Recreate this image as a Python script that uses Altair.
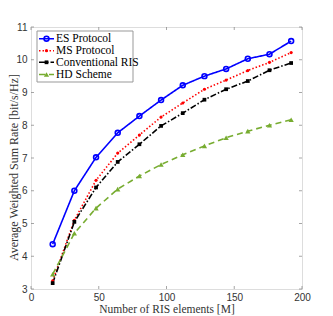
import altair as alt
import pandas as pd

M = [16, 32, 48, 64, 80, 96, 112, 128, 144, 160, 176, 192]
es = [4.37, 6.0, 7.02, 7.77, 8.28, 8.77, 9.22, 9.5, 9.72, 10.03, 10.17, 10.57]
ms = [3.25, 5.1, 6.32, 7.15, 7.7, 8.25, 8.68, 9.1, 9.38, 9.67, 9.92, 10.22]
conv = [3.18, 5.05, 6.1, 6.88, 7.42, 7.98, 8.37, 8.78, 9.1, 9.35, 9.68, 9.9]
hd = [3.45, 4.7, 5.47, 6.05, 6.45, 6.8, 7.1, 7.37, 7.62, 7.82, 8.0, 8.17]

series = ["ES Protocol", "MS Protocol", "Conventional RIS", "HD Scheme"]
colors = ["#0000FF", "#FF0000", "#000000", "#77AC30"]
dashes = [[1, 0], [1.5, 2], [6, 2, 1.5, 2], [6, 4]]
values = [es, ms, conv, hd]

x_ticks = [0, 50, 100, 150, 200]
y_ticks = [3, 4, 5, 6, 7, 8, 9, 10, 11]

W, H = 271, 262
SERIF = "Liberation Serif"
SANS = "Liberation Sans"
AX = "#808080"

rows = []
for s, v in zip(series, values):
    for m, r in zip(M, v):
        rows.append({"M": m, "rate": r, "series": s})
df = pd.DataFrame(rows)
one = pd.DataFrame({"k": [0]})

xaxis = alt.Axis(
    values=x_ticks, title="Number of RIS elements [M]", grid=False, domain=False,
    tickSize=0, labelPadding=3, labelFont=SANS, labelFontSize=10, labelColor="#333",
    labelOverlap=False, labelFlush=False,
    titleFont=SERIF, titleFontSize=11.5, titleFontWeight="normal", titleColor="#333",
    titlePadding=1)
yaxis = alt.Axis(
    values=y_ticks, title="Average Weighted Sum Rate [bit/s/Hz]", grid=False, domain=False,
    tickSize=0, labelPadding=4, labelFont=SANS, labelFontSize=10, labelColor="#333",
    labelOverlap=False, labelFlush=False,
    titleFont=SERIF, titleFontSize=12, titleFontWeight="normal", titleColor="#333",
    titleX=-11, titleY=140)

xs = alt.Scale(domain=[0, 200], nice=False)
ys = alt.Scale(domain=[3, 11], nice=False)

lines = alt.Chart(df).mark_line(strokeWidth=1.6).encode(
    x=alt.X("M:Q", scale=xs, axis=xaxis), y=alt.Y("rate:Q", scale=ys, axis=yaxis),
    color=alt.Color("series:N", scale=alt.Scale(domain=series, range=colors), legend=None),
    strokeDash=alt.StrokeDash("series:N", scale=alt.Scale(domain=series, range=dashes), legend=None),
)

marker_specs = {
    "ES Protocol": dict(shape="circle", filled=False, size=24, strokeWidth=1.6),
    "MS Protocol": dict(shape="circle", filled=True, size=10),
    "Conventional RIS": dict(shape="square", filled=True, size=14),
    "HD Scheme": dict(shape="triangle-up", filled=True, size=28),
}

layers = [lines]
for s, c in zip(series, colors):
    layers.append(
        alt.Chart(df[df.series == s]).mark_point(color=c, opacity=1, **marker_specs[s]).encode(
            x=alt.X("M:Q", scale=xs, axis=xaxis), y=alt.Y("rate:Q", scale=ys, axis=yaxis))
    )

# inward ticks (MATLAB style)
xt = pd.DataFrame({"M": x_ticks})
yt = pd.DataFrame({"rate": y_ticks})
for yy in [H - 1.5, 1.5]:
    layers.append(alt.Chart(xt).mark_tick(orient="vertical", color=AX, size=3, thickness=1).encode(
        x=alt.X("M:Q", scale=xs, axis=xaxis), y=alt.value(yy)))
for xx in [1.5, W - 1.5]:
    layers.append(alt.Chart(yt).mark_tick(orient="horizontal", color=AX, size=3, thickness=1).encode(
        y=alt.Y("rate:Q", scale=ys, axis=yaxis), x=alt.value(xx)))

# legend box
layers.append(alt.Chart(one).mark_rect(fill="white", stroke="#999", strokeWidth=1).encode(
    x=alt.value(6), x2=alt.value(102), y=alt.value(4), y2=alt.value(55)))
ly = [11.7, 23.7, 35.3, 47.5]
for s, c, d, yy in zip(series, colors, dashes, ly):
    layers.append(alt.Chart(one).mark_rule(color=c, strokeWidth=1.6, strokeDash=d).encode(
        x=alt.value(8), x2=alt.value(23), y=alt.value(yy)))
    spec = dict(marker_specs[s])
    layers.append(alt.Chart(one).mark_point(color=c, opacity=1, **spec).encode(
        x=alt.value(15.5), y=alt.value(yy)))
    layers.append(alt.Chart(one).mark_text(text=s, font=SERIF, fontSize=11.5, align="left",
                                           baseline="middle", color="black").encode(
        x=alt.value(25), y=alt.value(yy + 0.5)))

chart = alt.layer(*layers).properties(
    width=W, height=H,
    autosize=alt.AutoSizeParams(type="none"),
    padding={"left": 23, "top": 19, "right": 20, "bottom": 27},
).configure_view(stroke=AX, strokeWidth=1).configure_axis(
    labelOverlap=False, labelFlush=False
).configure(background="white")

chart.save("out.html", embed_options={"renderer": "svg", "actions": False})
